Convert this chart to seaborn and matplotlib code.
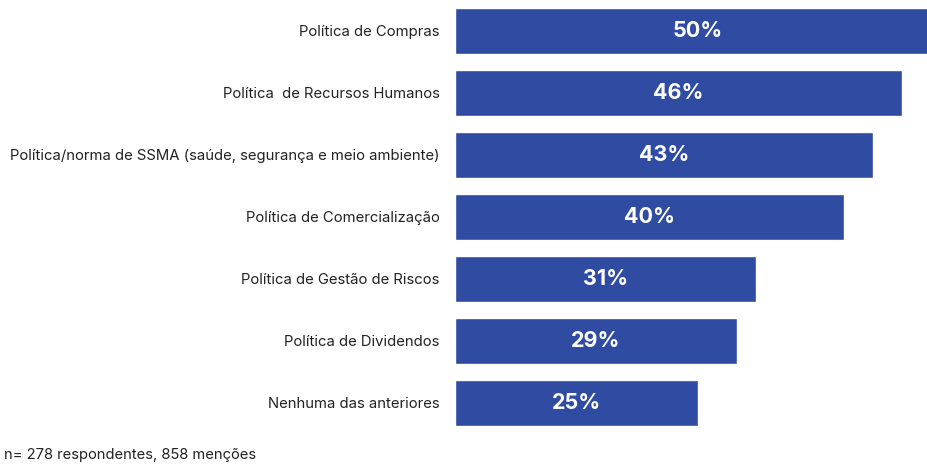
import matplotlib
matplotlib.use("Agg")
import matplotlib.pyplot as plt
import seaborn as sns
import pandas as pd

categories = [
    "Política de Compras",
    "Política  de Recursos Humanos",
    "Política/norma de SSMA (saúde, segurança e meio ambiente)",
    "Política de Comercialização",
    "Política de Gestão de Riscos",
    "Política de Dividendos",
    "Nenhuma das anteriores",
]
values = [50, 46, 43, 40, 31, 29, 25]
footnote = "n= 278 respondentes, 858 menções"

sns.set_theme(style="white")
plt.rcParams["font.family"] = ["Inter", "DejaVu Sans"]

df = pd.DataFrame({"categoria": categories, "valor": values})

fig = plt.figure(figsize=(9.28, 4.67), dpi=100)
ax = fig.add_axes([0.4903, 0.0707, 0.5097, 0.9293])

sns.barplot(data=df, y="categoria", x="valor", orient="h", color="#2f4ba2",
            saturation=1, width=0.73, ax=ax)

ax.set_xlim(0, 48.7)
ax.set_ylim(6.5, -0.5)
ax.set_xlabel("")
ax.set_ylabel("")
ax.set_xticks([])
ax.tick_params(axis="y", length=0, pad=11, labelsize=10.7, labelcolor="#222222")
for s in ax.spines.values():
    s.set_visible(False)

for i, v in enumerate(values):
    ax.text(v / 2, i, f"{v}%", ha="center", va="center", color="white",
            fontsize=15.5, fontweight="bold", clip_on=False)

fig.text(0.004, 0.025, footnote, ha="left", va="center", fontsize=10.6, color="#222222")

fig.savefig("out.png", dpi=100, facecolor="white")
